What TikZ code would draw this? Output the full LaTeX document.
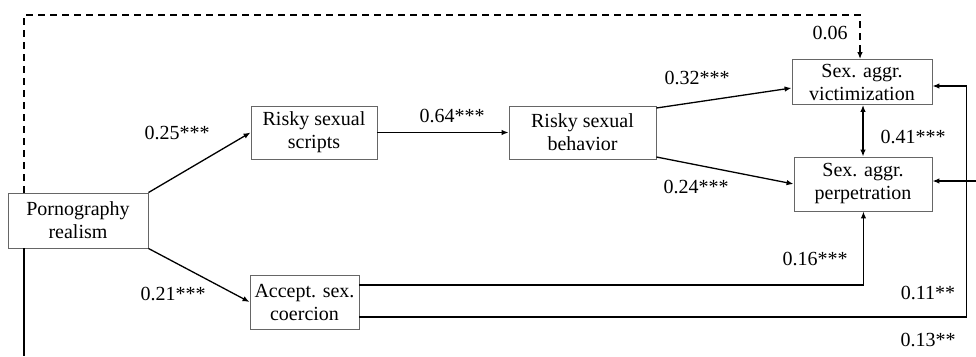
\documentclass[tikz,border=0pt]{standalone}
\usepackage{fontspec}
\setmainfont{Liberation Serif}
\usetikzlibrary{arrows.meta}
\begin{document}
\begin{tikzpicture}[x=1pt,y=-1pt,
  box/.style={draw=black!60,line width=0.9pt,fill=white,inner sep=0pt,align=center,font=\fontsize{20}{23}\selectfont},
  lbl/.style={font=\fontsize{20}{23}\selectfont,inner sep=0pt},
  conn/.style={line width=1.3pt,-{Latex[length=7pt,width=5.5pt]}},
  bothconn/.style={line width=1.3pt,{Latex[length=7pt,width=5.5pt]}-{Latex[length=7pt,width=5.5pt]}}]
\useasboundingbox (0,0) rectangle (976,356);
\node[box,minimum width=140pt,minimum height=55pt] (porn) at (78,220.5) {Pornography\\realism};
\node[box,minimum width=126pt,minimum height=53pt] (scripts) at (314,132.5) {Risky sexual\\scripts};
\node[box,minimum width=147pt,minimum height=53pt] (behav) at (582.5,132.5) {Risky sexual\\behavior};
\node[box,minimum width=140pt,minimum height=45pt] (victim) at (862,82) {Sex. aggr.\\victimization};
\node[box,minimum width=138pt,minimum height=54pt] (perp) at (863,184) {Sex. aggr.\\perpetration};
\node[box,minimum width=109pt,minimum height=54pt] (accept) at (304.5,302) {Accept. sex.\\coercion};
\coordinate (dtop1) at (24,15);
\coordinate (dtop2) at (860,15);
\coordinate (bottomend) at (24,356);
\coordinate (rightend) at (976,181);
% dashed path
\draw[conn,dash pattern=on 7pt off 5pt] (porn.north -| dtop1) -- (dtop1) -- (dtop2) -- (dtop2 |- victim.north);
% solid line down
\draw[line width=1.3pt] (porn.south -| bottomend) -- (bottomend);
% porn -> scripts, accept
\draw[conn] (porn.north east) -- (scripts.west);
\draw[conn] (porn.south east) -- (accept.west);
\draw[conn] (scripts.east) -- (behav.west);
\draw[conn] ([yshift=24.5pt]behav.east) -- ([yshift=-6pt]victim.west);
\draw[conn] ([yshift=-24.5pt]behav.east) -- (perp.west);
\draw[bothconn] (victim.south -| perp.north) -- (perp.north);
\draw[conn] ([yshift=17pt]accept.east) -- ++(504,0) coordinate (c1) -- (c1 |- perp.south);
\draw[conn] ([yshift=-15pt]accept.east) -- ++(607,0) coordinate (c2) -- ([yshift=-4pt]c2 |- victim.east) -- ([yshift=-4pt]victim.east);
\draw[conn] (rightend) -- (perp.east |- rightend);
% labels
\node[lbl] (l06) at (830,33) {0.06};
\node[lbl] (l25) at (177,133) {0.25***};
\node[lbl] (l21) at (173,294) {0.21***};
\node[lbl] (l64) at (452,116) {0.64***};
\node[lbl] (l32) at (697,78) {0.32***};
\node[lbl] (l24) at (696,187) {0.24***};
\node[lbl] (l41) at (913,137) {0.41***};
\node[lbl] (l16) at (815,259) {0.16***};
\node[lbl] (l11) at (928,293) {0.11**};
\node[lbl] (l13) at (928,340) {0.13**};
\end{tikzpicture}
\end{document}
